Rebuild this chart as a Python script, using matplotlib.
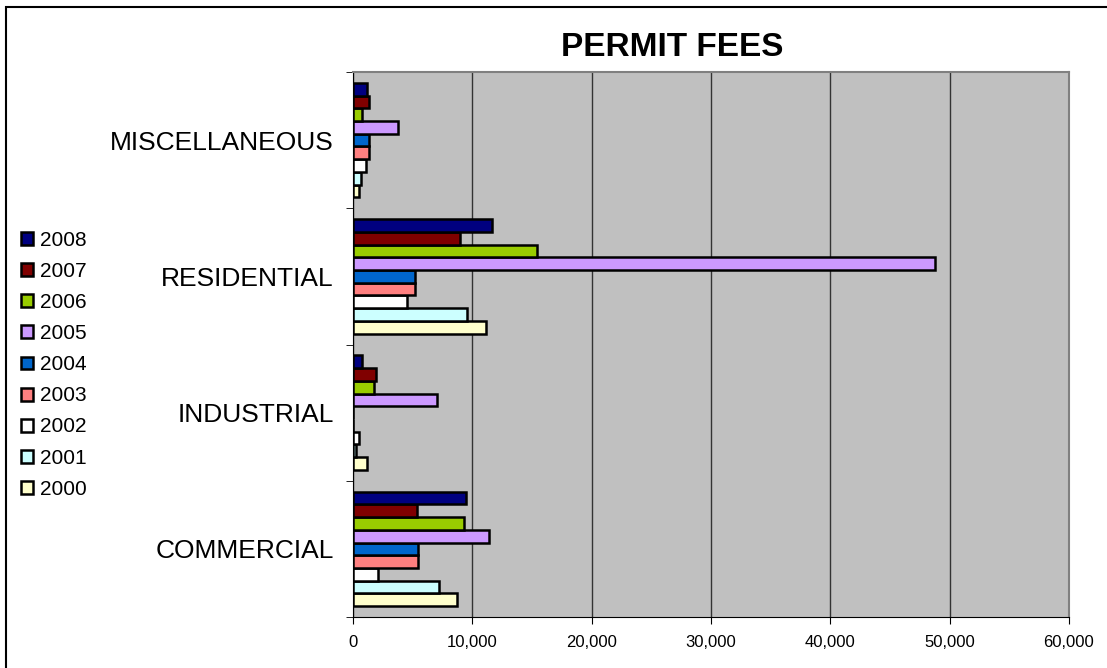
import numpy as np
import matplotlib
matplotlib.use("Agg")
import matplotlib.pyplot as plt
from matplotlib.patches import Rectangle
from matplotlib.ticker import FuncFormatter

plt.rcParams['font.family'] = ['Liberation Sans', 'DejaVu Sans']

# 数据
categories = ['COMMERCIAL', 'INDUSTRIAL', 'RESIDENTIAL', 'MISCELLANEOUS']
years = ['2000', '2001', '2002', '2003', '2004', '2005', '2006', '2007', '2008']
fees_2000 = [8740, 1200, 11170, 500]
fees_2001 = [7230, 220, 9530, 670]
fees_2002 = [2120, 530, 4500, 1060]
fees_2003 = [5420, 0, 5200, 1370]
fees_2004 = [5420, 0, 5220, 1340]
fees_2005 = [11370, 7070, 48800, 3800]
fees_2006 = [9300, 1760, 15450, 750]
fees_2007 = [5360, 1950, 8990, 1370]
fees_2008 = [9470, 730, 11620, 1150]
fees = [fees_2000, fees_2001, fees_2002, fees_2003, fees_2004,
        fees_2005, fees_2006, fees_2007, fees_2008]
colors = ['#FFFFCC', '#CCFFFF', '#FFFFFF', '#FF8080', '#0066CC',
          '#CC99FF', '#99CC00', '#800000', '#000080']

W, H = 1107, 668
fig = plt.figure(figsize=(W / 100, H / 100), dpi=100)
ax = fig.add_axes([353 / W, 1 - 617 / H, (1069 - 353) / W, (617 - 72) / H])
ax.set_facecolor('#C0C0C0')

n = len(years)
bh = 0.0935
ypos = np.arange(len(categories))
handles = []
for i in range(n):
    off = (i - (n - 1) / 2) * bh
    b = ax.barh(ypos + off, fees[i], height=bh, color=colors[i],
                edgecolor='black', linewidth=1.8, label=years[i], zorder=3)
    handles.append(b)

ax.set_xlim(0, 60000)
ax.set_ylim(-0.5, 3.5)
ax.set_xticks(np.arange(0, 60001, 10000))
ax.xaxis.set_major_formatter(FuncFormatter(lambda v, p: f'{int(v):,}'))
ax.tick_params(axis='x', labelsize=12, length=5, direction='out', pad=8)
ax.set_yticks(ypos)
ax.set_yticklabels(categories, fontsize=19)
ax.tick_params(axis='y', length=0, pad=14)
ax.set_yticks(np.arange(-0.5, 3.6, 1), minor=True)
ax.tick_params(axis='y', which='minor', length=5, direction='out')
ax.grid(axis='x', color='#333333', linewidth=1, zorder=1)
ax.set_axisbelow(True)
for s in ['top', 'right']:
    ax.spines[s].set_color('#808080')
    ax.spines[s].set_linewidth(1.5)
ax.spines['left'].set_color('black')
ax.spines['bottom'].set_color('black')

fig.text(672 / W, 1 - 47 / H, 'PERMIT FEES', fontsize=24, fontweight='bold',
         ha='center', va='center')

fig.legend(handles[::-1], years[::-1], loc='upper left',
           bbox_to_anchor=(21 / W, 1 - 231 / H), frameon=False, fontsize=15,
           handlelength=0.58, handleheight=0.58, handletextpad=0.35,
           labelspacing=0.58, borderpad=0, borderaxespad=0)

# 外框
fig.patches.append(Rectangle((6 / W, -0.1), 1.2, 1 - 7 / H + 0.1,
                             transform=fig.transFigure, fill=False,
                             edgecolor='black', linewidth=1.5))

fig.savefig('out.png', dpi=100)
